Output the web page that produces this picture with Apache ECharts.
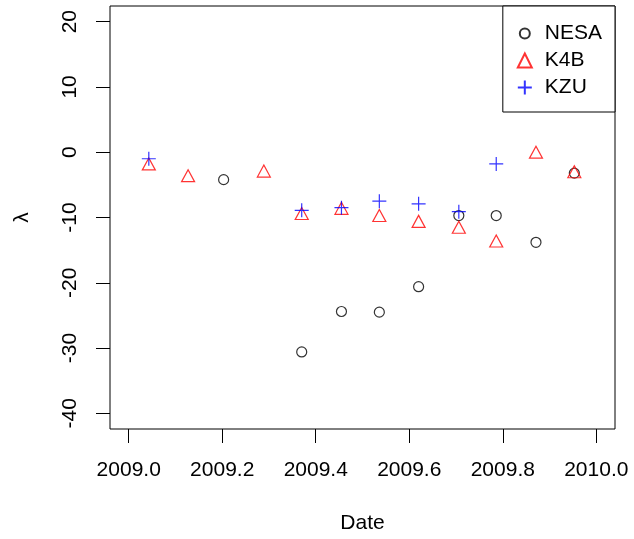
<!DOCTYPE html>
<html>
<head>
<meta charset="utf-8">
<script src="https://cdn.jsdelivr.net/npm/echarts@6/dist/echarts.min.js"></script>
<style>
  html, body { margin: 0; padding: 0; background: #fff; }
  #chart { width: 634px; height: 539px; }
</style>
</head>
<body>
<div id="chart"></div>
<script>
// Monthly lambda estimates per station during 2009
const nesaDate = [2009.203, 2009.370, 2009.455, 2009.536, 2009.620, 2009.706, 2009.786, 2009.871, 2009.953];
const nesaVal  = [-4.2, -30.6, -24.4, -24.5, -20.6, -9.7, -9.7, -13.8, -3.2];

const k4bDate = [2009.043, 2009.127, 2009.289, 2009.370, 2009.455, 2009.536, 2009.620, 2009.706, 2009.786, 2009.871, 2009.953];
const k4bVal  = [-2.1, -3.9, -3.2, -9.7, -8.9, -10.0, -10.9, -11.8, -13.9, -0.3, -3.3];

const kzuDate = [2009.043, 2009.370, 2009.455, 2009.536, 2009.620, 2009.706, 2009.786];
const kzuVal  = [-1.0, -8.9, -8.5, -7.5, -7.9, -9.1, -1.8];

const xTicks = [2009.0, 2009.2, 2009.4, 2009.6, 2009.8, 2010.0];
const yTicks = [-40, -30, -20, -10, 0, 10, 20];

const pairs = (xs, ys) => xs.map((x, i) => [x, ys[i]]);
const FONT = 'Liberation Sans, Arial, sans-serif';
const PLUS = 'path://M0,7L14,7M7,0L7,14';
// open circle padded inside a 14x14 box so the legend keeps it at marker size
const LEGEND_CIRCLE = 'path://M0,0M14,14M12,7A5,5,0,1,1,2,7A5,5,0,1,1,12,7Z';
const MARK_W = 1.2;

const chart = echarts.init(document.getElementById('chart'), null, { renderer: 'canvas' });
chart.setOption({
  animation: false,
  backgroundColor: '#ffffff',
  grid: {
    left: 110, top: 6, width: 505, height: 426,
    show: true, borderColor: '#000', borderWidth: 1, backgroundColor: 'transparent'
  },
  xAxis: {
    type: 'value',
    min: 2008.96, max: 2010.04,
    name: 'Date', nameLocation: 'middle', nameGap: 84,
    nameTextStyle: { fontFamily: FONT, fontSize: 21, color: '#000' },
    axisLine: { show: false, onZero: false },
    splitLine: { show: false },
    axisTick: { show: true, inside: false, length: 14, customValues: xTicks,
                lineStyle: { color: '#000', width: 1 } },
    axisLabel: { customValues: xTicks, margin: 31, fontFamily: FONT, fontSize: 21, color: '#000',
                 formatter: v => v.toFixed(1), showMinLabel: true, showMaxLabel: true, hideOverlap: false }
  },
  yAxis: {
    type: 'value',
    min: -42.4, max: 22.4,
    name: 'λ', nameLocation: 'middle', nameGap: 77, nameRotate: 90,
    nameTextStyle: { fontFamily: FONT, fontSize: 21, color: '#000' },
    axisLine: { show: false, onZero: false },
    splitLine: { show: false },
    axisTick: { show: true, inside: false, length: 14, customValues: yTicks,
                lineStyle: { color: '#000', width: 1 } },
    axisLabel: { customValues: yTicks, rotate: 90, margin: 29, fontFamily: FONT, fontSize: 21, color: '#000',
                 showMinLabel: true, showMaxLabel: true, hideOverlap: false }
  },
  legend: {
    right: 19, top: 6, orient: 'vertical',
    backgroundColor: '#fff', borderColor: '#000', borderWidth: 1, borderRadius: 0,
    padding: [17, 13, 14, 14],
    itemWidth: 14, itemHeight: 14, itemGap: 6,
    textStyle: { fontFamily: FONT, fontSize: 21, color: '#000', padding: [0, 0, 0, 8] },
    data: [{ name: 'NESA', icon: LEGEND_CIRCLE }, { name: 'K4B' }, { name: 'KZU' }]
  },
  series: [
    {
      name: 'NESA', type: 'scatter', symbol: 'circle', symbolSize: 10,
      itemStyle: { color: 'transparent', borderColor: '#000', borderWidth: MARK_W },
      data: pairs(nesaDate, nesaVal)
    },
    {
      name: 'K4B', type: 'scatter', symbol: 'triangle', symbolSize: [13, 12], symbolOffset: [0, -2],
      itemStyle: { color: 'transparent', borderColor: '#ff0000', borderWidth: MARK_W },
      data: pairs(k4bDate, k4bVal)
    },
    {
      name: 'KZU', type: 'scatter', symbol: PLUS, symbolSize: 14,
      itemStyle: { color: 'transparent', borderColor: '#0000ff', borderWidth: MARK_W },
      data: pairs(kzuDate, kzuVal)
    }
  ]
});
</script>
</body>
</html>
